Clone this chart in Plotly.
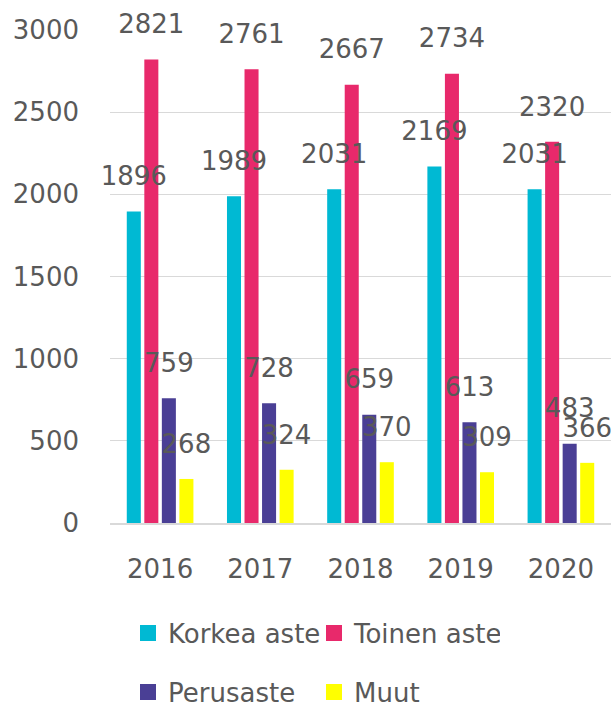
import plotly.graph_objects as go

years = ["2016", "2017", "2018", "2019", "2020"]
series_names = ["Korkea aste", "Toinen aste", "Perusaste", "Muut"]
korkea = [1896, 1989, 2031, 2169, 2031]
toinen = [2821, 2761, 2667, 2734, 2320]
perus = [759, 728, 659, 613, 483]
muut = [268, 324, 370, 309, 366]
colors = ["#00B9D3", "#E8296B", "#4A3F95", "#FFFF00"]
values = [korkea, toinen, perus, muut]

FONT = "DejaVu Sans"
GRAY = "#595959"

fig = go.Figure()
for name, vals, col in zip(series_names, values, colors):
    fig.add_trace(go.Bar(x=years, y=vals, name=name, marker_color=col,
                         marker_line_width=0, showlegend=False, offsetgroup=name))
for name, vals, col in zip(series_names, values, colors):
    fig.add_trace(go.Scatter(x=years, y=vals, mode="markers+text", text=[str(v) for v in vals],
                             textposition="top center", offsetgroup=name,
                             marker=dict(size=30, color="rgba(0,0,0,0)"),
                             textfont=dict(family=FONT, size=26, color=GRAY),
                             showlegend=False, cliponaxis=False, hoverinfo="skip"))
for i, (name, col) in enumerate(zip(series_names, colors)):
    fig.add_trace(go.Scatter(x=[None], y=[None], mode="markers", name=name,
                             marker=dict(symbol="square", size=16, color=col),
                             xaxis="x2", yaxis="y2",
                             legend="legend" if i < 2 else "legend2"))

fig.update_layout(
    width=611, height=703,
    margin=dict(l=110, r=0, t=30, b=180, autoexpand=False),
    paper_bgcolor="white", plot_bgcolor="white",
    barmode="group", bargap=0.3, bargroupgap=0.2,
    scattermode="group", scattergap=0.3,
    font=dict(family=FONT, size=26, color=GRAY),
    xaxis=dict(type="category", showgrid=False, showline=True, linecolor="#D9D9D9", linewidth=2,
               ticks="", ticklabelstandoff=22, tickfont=dict(size=26, color=GRAY)),
    yaxis=dict(range=[0, 3000], dtick=500, showgrid=True, gridcolor="#D9D9D9", gridwidth=1,
               zeroline=False, ticks="", ticklabelstandoff=30, tickfont=dict(size=26, color=GRAY)),
    xaxis2=dict(visible=False, domain=[0, 0.01], anchor="y2"),
    yaxis2=dict(visible=False, domain=[0, 0.01], anchor="x2"),
    legend=dict(orientation="h", xref="container", yref="container",
                x=128 / 611, xanchor="left", y=1 - 633 / 703, yanchor="middle",
                entrywidth=141, font=dict(size=26, color=GRAY), bgcolor="rgba(0,0,0,0)"),
    legend2=dict(orientation="h", xref="container", yref="container",
                 x=128 / 611, xanchor="left", y=1 - 692 / 703, yanchor="middle",
                 entrywidth=141, font=dict(size=26, color=GRAY), bgcolor="rgba(0,0,0,0)"),
    showlegend=True,
)

fig.write_html("out.html", config={"displayModeBar": False},
               post_script="document.body.style.margin='0';document.body.style.overflow='hidden';")
